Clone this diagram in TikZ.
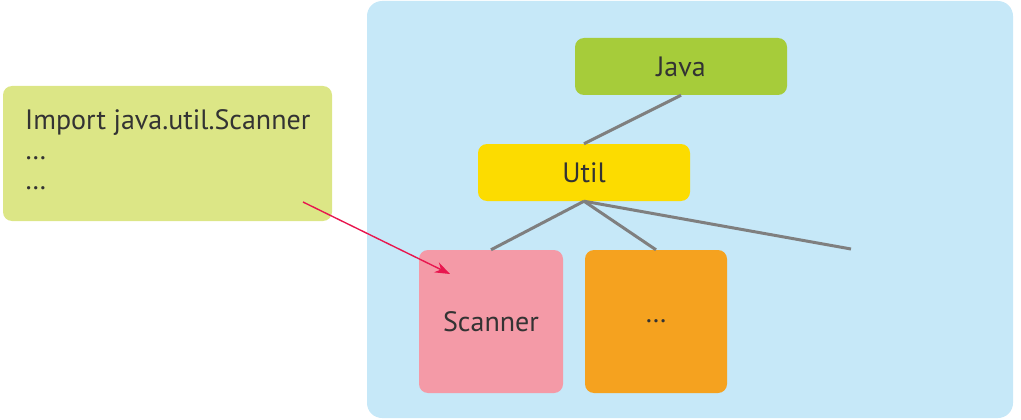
\documentclass[tikz,border=0pt]{standalone}
\usepackage{fontspec}
\setmainfont{PT Sans}
\usetikzlibrary{arrows.meta}
\definecolor{panelblue}{HTML}{C6E8F8}
\definecolor{codegreen}{HTML}{DCE686}
\definecolor{javagreen}{HTML}{A6CC3A}
\definecolor{utilyellow}{HTML}{FCDC00}
\definecolor{scanpink}{HTML}{F49AA7}
\definecolor{dotorange}{HTML}{F5A21F}
\definecolor{linkgray}{HTML}{7F7F7F}
\definecolor{arrowred}{HTML}{E8174F}
\definecolor{txt}{HTML}{333333}
\begin{document}
\begin{tikzpicture}[x=1pt,y=-1pt,
  box/.style={rounded corners=9pt, inner sep=0pt, text=txt, font=\fontsize{28}{32}\selectfont},
  link/.style={draw=linkgray, line width=3pt},
  pointer/.style={draw=arrowred, line width=1.4pt, -{Stealth[length=15pt,width=11pt]}}]
\useasboundingbox (0,0) rectangle (1021,420);
\fill[panelblue, rounded corners=15pt] (367,1) rectangle (1013,418);
\node[box, fill=codegreen, minimum width=329pt, minimum height=135pt] (code) at (167.5,153.5) {};
\node[anchor=west, inner sep=0pt, text=txt, font=\fontsize{28}{30}\selectfont, align=left] (codetext) at (25,150) {Import java.util.Scanner\\…\\…};
\node[box, fill=javagreen, minimum width=212pt, minimum height=57pt] (java) at (681,66.5) {Java};
\node[box, fill=utilyellow, minimum width=212pt, minimum height=57pt] (util) at (584,172.5) {Util};
\node[box, fill=scanpink, minimum width=144pt, minimum height=143pt] (scanner) at (491,321.5) {Scanner};
\node[box, fill=dotorange, minimum width=142pt, minimum height=143pt] (dots) at (656,321.5) {…};
\coordinate (farend) at (851,249);
\coordinate (arrowstart) at (303,202);
\coordinate (arrowend) at (450,274);
\draw[link] (java.south) -- (util.north);
\draw[link] (util.south) -- (scanner.north);
\draw[link] (util.south) -- (dots.north);
\draw[link] (util.south) -- (farend);
\draw[pointer] (arrowstart) -- (arrowend);
\end{tikzpicture}
\end{document}
